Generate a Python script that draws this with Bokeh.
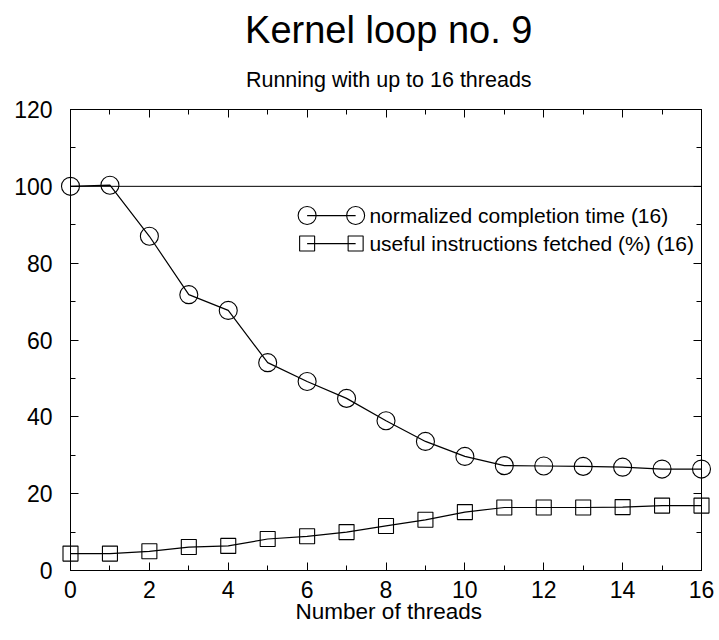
from bokeh.plotting import figure
from bokeh.models import (Range1d, LinearAxis, SingleIntervalTicker, Span,
                          ColumnDataSource, CustomJSTickFormatter)
from bokeh.core.properties import value
from bokeh.embed import file_html
from bokeh.resources import INLINE

# Thread counts and the two measured series
threads = [0, 1, 2, 3, 4, 5, 6, 7, 8, 9, 10, 11, 12, 13, 14, 15, 16]
completion_time = [100.0, 100.3, 87.0, 71.8, 67.7, 54.1, 49.2, 44.8, 39.0,
                   33.6, 29.7, 27.3, 27.2, 27.1, 26.9, 26.4, 26.4]
useful_fetched = [4.4, 4.4, 5.0, 6.1, 6.4, 8.2, 8.9, 10.0, 11.6,
                  13.2, 15.2, 16.4, 16.4, 16.4, 16.5, 16.9, 16.9]
series_names = ["normalized completion time (16)",
                "useful instructions fetched (%) (16)"]
reference_level = 100

title_text = "Kernel loop no. 9"
subtitle_text = "Running with up to 16 threads"
x_label_text = "Number of threads"

FONT = "Liberation Sans"

p = figure(width=719, height=640, output_backend="svg", toolbar_location=None,
           title=None, x_axis_type=None, y_axis_type=None,
           x_range=Range1d(0, 16), y_range=Range1d(0, 120),
           min_border_left=70, min_border_right=18,
           min_border_top=109, min_border_bottom=70)
p.xgrid.visible = False
p.ygrid.visible = False
p.outline_line_color = "black"
p.outline_line_width = 1
p.background_fill_color = "white"
p.border_fill_color = "white"


def style_axis(ax):
    ax.axis_line_color = "black"
    ax.axis_line_width = 1
    ax.major_tick_in = 8
    ax.major_tick_out = 0
    ax.minor_tick_in = 5
    ax.minor_tick_out = 0
    ax.major_tick_line_color = "black"
    ax.minor_tick_line_color = "black"
    ax.major_label_text_font = FONT
    ax.major_label_text_color = "black"
    ax.major_label_text_font_size = "23px"


x_ticker = SingleIntervalTicker(interval=2, num_minor_ticks=2)
y_ticker = SingleIntervalTicker(interval=20, num_minor_ticks=2)
blank = CustomJSTickFormatter(code="return ''")

bottom = LinearAxis(ticker=x_ticker)
style_axis(bottom)
bottom.major_label_standoff = 10
p.add_layout(bottom, "below")

left = LinearAxis(ticker=y_ticker)
style_axis(left)
left.major_label_standoff = 18
p.add_layout(left, "left")

# Frame ticks on the top and right edges, without labels
top = LinearAxis(ticker=x_ticker, formatter=blank)
style_axis(top)
top.major_label_standoff = 0
p.add_layout(top, "above")

right = LinearAxis(ticker=y_ticker, formatter=blank)
style_axis(right)
right.major_label_standoff = 0
p.add_layout(right, "right")

# Reference line at 100
p.add_layout(Span(location=reference_level, dimension="width",
                  line_color="black", line_width=1))

src = ColumnDataSource(dict(x=threads, t=completion_time, u=useful_fetched))

p.line("x", "t", source=src, line_color="black", line_width=1.2)
p.scatter("x", "t", source=src, marker="circle", size=18, fill_color=None,
          line_color="black", line_width=1.1, level="overlay")
p.line("x", "u", source=src, line_color="black", line_width=1.2)
p.scatter("x", "u", source=src, marker="square", size=15, fill_color=None,
          line_color="black", line_width=1.1, level="overlay")

# Legend: a short line with a marker at each end, then the label
leg_x0, leg_x1, leg_tx = 6.0, 7.23, 7.58
leg_rows = [92.4, 85.1]
for row_y, marker, size, name in zip(leg_rows, ["circle", "square"], [18, 15], series_names):
    p.line([leg_x0, leg_x1], [row_y, row_y], line_color="black", line_width=1.2)
    p.scatter([leg_x0, leg_x1], [row_y, row_y], marker=marker, size=size,
              fill_color=None, line_color="black", line_width=1.1)
    p.text([leg_tx], [row_y], text=[name], text_font=value(FONT),
           text_font_size="21px", text_baseline="middle", text_align="left",
           text_color="black")

# Title, subtitle and x-axis label, placed around the frame
x_mid = 8.07
for txt, ty, fs in [(title_text, 140.6, "38px"),
                    (subtitle_text, 127.6, "21.5px"),
                    (x_label_text, -10.7, "22.5px")]:
    p.text([x_mid], [ty], text=[txt], text_font=value(FONT), text_font_size=fs,
           text_baseline="middle", text_align="center", text_color="black",
           level="overlay")

open("out.html", "w").write(file_html(p, INLINE))
